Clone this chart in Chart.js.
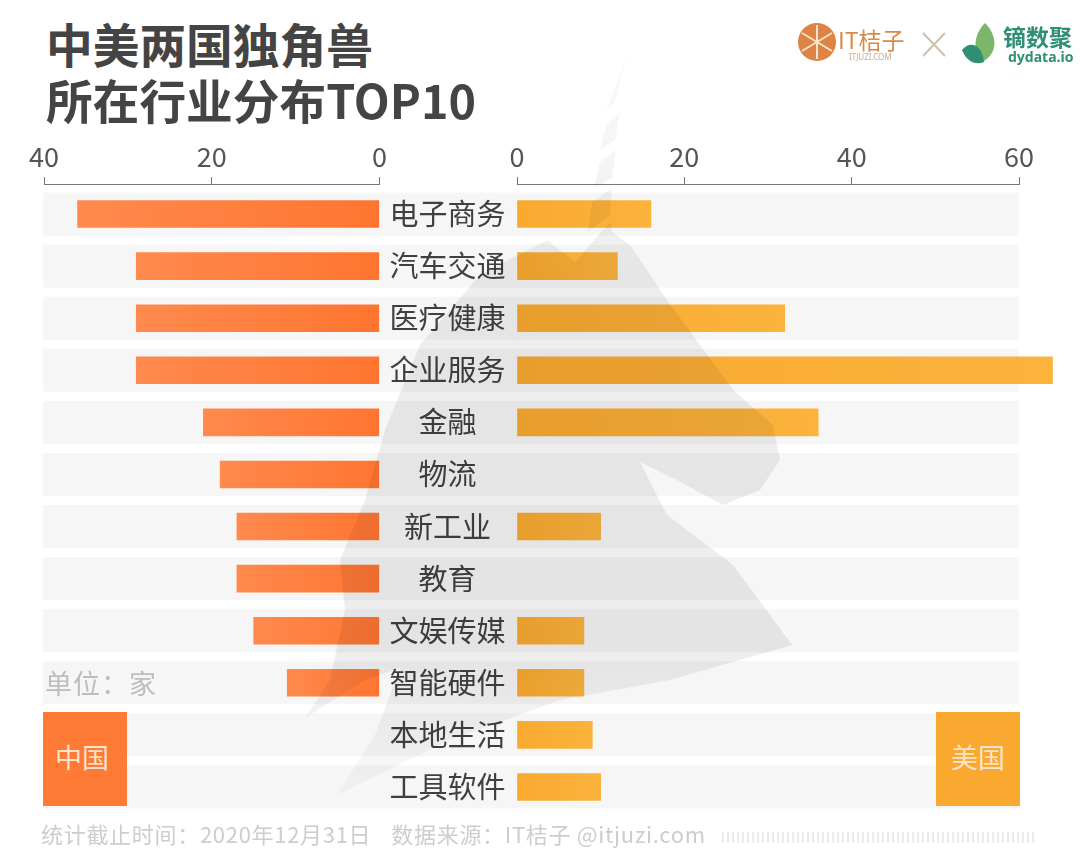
<!DOCTYPE html>
<html>
<head>
<meta charset="utf-8">
<title>中美两国独角兽所在行业分布TOP10</title>
<script src="https://cdn.jsdelivr.net/npm/chart.js@4"></script>
<style>
  html, body { margin: 0; padding: 0; background: #fff; }
  body { position: relative; width: 1080px; height: 854px; overflow: hidden;
         font-family: "Noto Sans CJK SC", "Noto Sans", sans-serif; }
  #chinaWrap, #usWrap { position: absolute; top: 130px; height: 690px; }
  #chinaWrap { left: 0; width: 517px; }
  #usWrap { left: 480px; width: 600px; }
  .title { position: absolute; left: 46px; font-size: 46.7px; font-weight: 700; color: #444; line-height: 1; white-space: nowrap; }
  .tag { position: absolute; top: 712px; width: 84px; height: 94px; line-height: 89px; text-align: center;
         color: #fbe3cc; font-size: 27px; }
  #unit { position: absolute; left: 45px; top: 663px; font-size: 27px; color: #bdbdbd; letter-spacing: 1px; white-space: nowrap; }
  #source { position: absolute; left: 41px; top: 817px; font-size: 22px; color: #cdcdcd; white-space: nowrap; letter-spacing: .7px; }
  #mark { position: absolute; left: 0; top: 0; mix-blend-mode: multiply; pointer-events: none; }
</style>
</head>
<body>
<div id="chinaWrap"><canvas id="chinaChart"></canvas></div>
<div id="usWrap"><canvas id="usChart"></canvas></div>

<div class="title" style="top:20px">中美两国独角兽</div>
<div class="title" style="top:76px">所在行业分布TOP10</div>

<div class="tag" style="left:43px;background:#ff7a35;text-indent:-6px">中国</div>
<div class="tag" style="left:936px;background:#f9a92f">美国</div>
<div id="unit">单位：家</div>
<div id="source">统计截止时间：2020年12月31日<span style="margin-left:20px">数据来源：IT桔子 @itjuzi.com</span></div>

<!-- logos -->
<svg style="position:absolute;left:0;top:0" width="1080" height="854">
  <circle cx="817" cy="42" r="19" fill="#dd8444"/>
  <g stroke="#f7e3cf" stroke-width="2">
    <line x1="817" y1="25" x2="817" y2="59"/>
    <line x1="802" y1="33" x2="832" y2="51"/>
    <line x1="802" y1="51" x2="832" y2="33"/>
  </g>
  <g stroke="#cfc0a8" stroke-width="2">
    <line x1="923" y1="33" x2="945" y2="56"/>
    <line x1="945" y1="33" x2="923" y2="56"/>
  </g>
  <path d="M985 23 C998 36 998 54 982 62 C972 50 974 34 985 23Z" fill="#7cb66a"/>
  <path d="M962 50 C970 40 982 44 984 62 C974 66 966 60 962 50Z" fill="#2f8f73"/>
  <text x="838" y="49" font-size="23" fill="#d98a48" font-family="Noto Sans CJK SC">IT桔子</text>
  <text x="849" y="60" font-size="8" fill="#c9a888" font-family="Noto Sans">ITJUZI.COM</text>
  <text x="1003" y="46" font-size="23" fill="#2f8f73" font-weight="700" font-family="Noto Sans CJK SC">镝数聚</text>
  <text x="1008" y="62" font-size="14" fill="#2f8f73" font-weight="700" font-family="Noto Sans">dydata.io</text>
  <g id="barcode" stroke="#d8d8d8" stroke-width="1"></g>
</svg>

<!-- unicorn watermark, on top of everything and multiplied so bars darken too -->
<svg id="mark" width="1080" height="854">
  <defs>
    <linearGradient id="fade" x1="0" y1="55" x2="0" y2="800" gradientUnits="userSpaceOnUse">
      <stop offset="0" stop-color="#000" stop-opacity="0.02"/>
      <stop offset="0.3" stop-color="#000" stop-opacity="0.065"/>
      <stop offset="0.8" stop-color="#000" stop-opacity="0.07"/>
      <stop offset="1" stop-color="#000" stop-opacity="0.02"/>
    </linearGradient>
  </defs>
  <g fill="url(#fade)">
    <path d="M627 55 L616 100 L606 112 Z"/>
    <path d="M620 112 L615 140 L600 150 L606 126 Z"/>
    <path d="M616 150 L612 178 L594 188 L600 162 Z"/>
    <path d="M612 188 L610 215 L588 232 L592 202 Z"/>
    <path d="M547 240 L575 262 L610 222 L612 232 L630 245 L667 300 L733 390 L773 425 L780 460 L760 490 L723 505 L677 480 L640 462 L667 515 L733 565 L792 645 L670 680 L560 700 L450 740 L337 795 L375 735 L400 668 L365 680 L305 718 L330 680 L345 610 L340 560 L365 500 L385 430 L420 345 L480 275 Z"/>
  </g>
</svg>

<script>
const categories = ['电子商务', '汽车交通', '医疗健康', '企业服务', '金融', '物流', '新工业', '教育', '文娱传媒', '智能硬件', '本地生活', '工具软件'];
const chinaValues = [36, 29, 29, 29, 21, 19, 17, 17, 15, 11, null, null];
const usValues = [16, 12, 32, 64, 36, null, 10, null, 8, 8, 9, 10];
const chinaTicks = [0, 20, 40];
const usTicks = [0, 20, 40, 60];

const fontFamily = '"Noto Sans CJK SC", "Noto Sans", sans-serif';

// grey row strips behind the bars, one per category
const rowBands = {
    id: 'rowBands',
    beforeDraw(chart) {
        const { ctx, chartArea, scales } = chart;
        const isChina = chart.canvas.id === 'chinaChart';
        const left = chartArea.left - 1;
        const right = isChina ? chart.width : chartArea.right;
        ctx.save();
        ctx.fillStyle = '#f6f6f6';
        categories.forEach((c, i) => {
            ctx.fillRect(left, scales.y.getPixelForValue(i) - 21.5, right - left, 43);
        });
        ctx.restore();
    }
};

// axis line sits a little above the first row strip
const liftAxis = {
    id: 'liftAxis',
    afterLayout(chart) {
        chart.scales.x.top -= 4;
        chart.scales.x.bottom -= 4;
    }
};

// each bar fades from its base to its tip
function barGradient(context, baseColor, tipColor) {
    const xScale = context.chart.scales.x;
    if (context.raw == null || !context.chart.chartArea) return baseColor;
    const g = context.chart.ctx.createLinearGradient(
        xScale.getPixelForValue(0), 0, xScale.getPixelForValue(context.raw), 0);
    g.addColorStop(0, baseColor);
    g.addColorStop(1, tipColor);
    return g;
}

function axisOptions(max, ticks, reverse) {
    return {
        type: 'linear',
        position: 'top',
        min: 0,
        max: max,
        reverse: reverse,
        afterBuildTicks(axis) { axis.ticks = ticks.map(v => ({ value: v })); },
        afterFit(axis) { axis.height = 58; },
        border: { display: true, color: '#777777', width: 1 },
        grid: { display: true, drawOnChartArea: false, drawTicks: true, tickLength: 7, color: '#777777' },
        ticks: { color: '#555555', font: { size: 27, family: fontFamily }, padding: 4, maxRotation: 0 }
    };
}

new Chart(document.getElementById('chinaChart'), {
    type: 'bar',
    data: {
        labels: categories,
        datasets: [{
            data: chinaValues,
            barThickness: 27,
            borderWidth: 0,
            backgroundColor: ctx => barGradient(ctx, '#ff7530', '#ff8a4e')
        }]
    },
    options: {
        indexAxis: 'y',
        responsive: true,
        maintainAspectRatio: false,
        animation: false,
        layout: { autoPadding: false, padding: { left: 44, right: 0, top: 0, bottom: 7 } },
        plugins: { legend: { display: false }, tooltip: { enabled: false } },
        scales: {
            x: axisOptions(40, chinaTicks, true),
            y: {
                position: 'right',
                afterFit(axis) {
                    axis.width = 137.5;
                    axis.paddingTop = 0;
                    axis.paddingBottom = 0;
                },
                border: { display: false },
                grid: { display: false, drawTicks: false },
                ticks: { color: '#404040', font: { size: 29, family: fontFamily }, crossAlign: 'center', padding: 10, autoSkip: false }
            }
        }
    },
    plugins: [rowBands, liftAxis]
});

new Chart(document.getElementById('usChart'), {
    type: 'bar',
    data: {
        labels: categories,
        datasets: [{
            data: usValues,
            barThickness: 27,
            borderWidth: 0,
            clip: false,
            backgroundColor: ctx => barGradient(ctx, '#f9a92f', '#fbb33c')
        }]
    },
    options: {
        indexAxis: 'y',
        responsive: true,
        maintainAspectRatio: false,
        animation: false,
        layout: { autoPadding: false, padding: { left: 37, right: 61, top: 0, bottom: 7 } },
        plugins: { legend: { display: false }, tooltip: { enabled: false } },
        scales: {
            x: axisOptions(60, usTicks, false),
            y: { display: false }
        }
    },
    plugins: [rowBands, liftAxis]
});

// little tick strip at the bottom right
const strip = document.getElementById('barcode');
for (let x = 723; x < 1034; x += 5) {
    const l = document.createElementNS('http://www.w3.org/2000/svg', 'line');
    l.setAttribute('x1', x); l.setAttribute('x2', x);
    l.setAttribute('y1', 832); l.setAttribute('y2', 843);
    strip.appendChild(l);
}
</script>
</body>
</html>
